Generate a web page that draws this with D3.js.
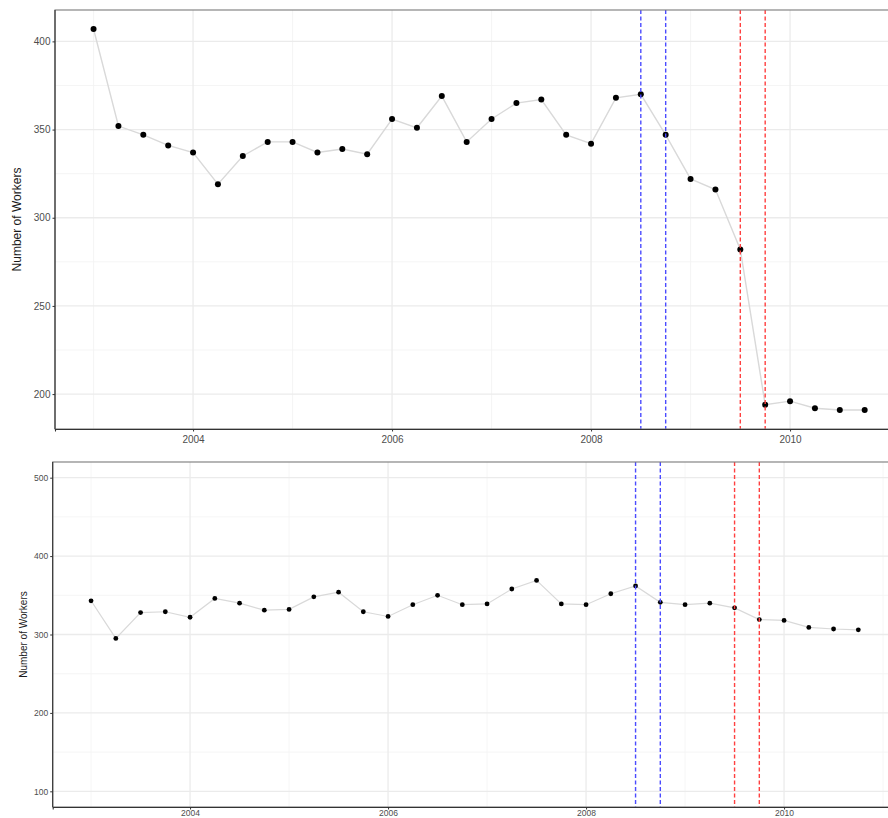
<!DOCTYPE html>
<html><head><meta charset="utf-8">
<script src="https://cdn.jsdelivr.net/npm/d3@7"></script>
<style>body{margin:0;background:#fff}svg{display:block}text{font-family:"Liberation Sans",Arial,sans-serif}</style>
</head><body><svg id="c" width="888" height="818"></svg>
<script>
const quarters = [2003,2003.25,2003.5,2003.75,2004,2004.25,2004.5,2004.75,2005,2005.25,2005.5,2005.75,2006,2006.25,2006.5,2006.75,2007,2007.25,2007.5,2007.75,2008,2008.25,2008.5,2008.75,2009,2009.25,2009.5,2009.75,2010,2010.25,2010.5,2010.75];
const workersTop = [407,352,347,341,337,319,335,343,343,337,339,336,356,351,369,343,356,365,367,347,342,368,370,347,322,316,282,194,196,192,191,191];
const workersBottom = [343,295,328,329,322,346,340,331,332,348,354,329,323,338,350,338,339,358,369,339,338,352,362,341,338,340,334,319,318,309,307,306];
const blueLines = [2008.5, 2008.75];
const redLines = [2009.5, 2009.75];
const xTicks = [2004, 2006, 2008, 2010];
const xMinor = [2003, 2005, 2007, 2009, 2011];
const yTicksTop = [200, 250, 300, 350, 400];
const yMinorTop = [225, 275, 325, 375];
const yTicksBottom = [100, 200, 300, 400, 500];
const yMinorBottom = [150, 250, 350, 450];
const yTitle = "Number of Workers";

const svg = d3.select("#c");

function panel(cfg){
  const g = svg.append("g");
  const x = d3.scaleLinear().domain([2002.6125, 2011.1375]).range([cfg.left, cfg.left + (2011.1375-2002.6125)*cfg.pxYear]);
  const y = d3.scaleLinear().domain(cfg.ydom).range([cfg.bottom, cfg.top]);
  const clipId = "clip" + cfg.id;
  svg.append("clipPath").attr("id", clipId).append("rect")
    .attr("x", cfg.left).attr("y", cfg.top).attr("width", 888 - cfg.left).attr("height", cfg.bottom - cfg.top);
  const pg = g.append("g").attr("clip-path", `url(#${clipId})`);
  pg.selectAll(".ymin").data(cfg.yMinor).join("line")
    .attr("x1", cfg.left).attr("x2", 900).attr("y1", d=>y(d)).attr("y2", d=>y(d))
    .attr("stroke", "#f3f3f3").attr("stroke-width", 0.8);
  pg.selectAll(".xmin").data(xMinor).join("line")
    .attr("y1", cfg.top).attr("y2", cfg.bottom).attr("x1", d=>x(d)).attr("x2", d=>x(d))
    .attr("stroke", "#f3f3f3").attr("stroke-width", 0.8);
  pg.selectAll(".ymaj").data(cfg.yTicks).join("line")
    .attr("x1", cfg.left).attr("x2", 900).attr("y1", d=>y(d)).attr("y2", d=>y(d))
    .attr("stroke", "#ebebeb").attr("stroke-width", 1.3);
  pg.selectAll(".xmaj").data(xTicks).join("line")
    .attr("y1", cfg.top).attr("y2", cfg.bottom).attr("x1", d=>x(d)).attr("x2", d=>x(d))
    .attr("stroke", "#ebebeb").attr("stroke-width", 1.3);
  pg.append("path").datum(quarters.map((q,i)=>[q, cfg.values[i]]))
    .attr("fill","none").attr("stroke","#d9d9d9").attr("stroke-width", cfg.lw)
    .attr("d", d3.line().x(d=>x(d[0])).y(d=>y(d[1])));
  pg.selectAll(".pt").data(quarters).join("circle")
    .attr("cx", d=>x(d)).attr("cy", (d,i)=>y(cfg.values[i])).attr("r", cfg.r).attr("fill","#000");
  pg.selectAll(".vb").data(blueLines).join("line")
    .attr("x1", d=>x(d)).attr("x2", d=>x(d)).attr("y1", cfg.top).attr("y2", cfg.bottom)
    .attr("stroke", "#4b4bff").attr("stroke-width", 1.4).attr("stroke-dasharray", "4,2.5");
  pg.selectAll(".vr").data(redLines).join("line")
    .attr("x1", d=>x(d)).attr("x2", d=>x(d)).attr("y1", cfg.top).attr("y2", cfg.bottom)
    .attr("stroke", "#ff4040").attr("stroke-width", 1.4).attr("stroke-dasharray", "4,2.5");
  g.append("rect").attr("x", cfg.left).attr("y", cfg.top).attr("width", 900 - cfg.left).attr("height", cfg.bottom - cfg.top)
    .attr("fill","none").attr("stroke","#7a7a7a").attr("stroke-width", 1.1);
  const ya = d3.axisLeft(y).tickValues(cfg.yTicks).tickSize(2.5).tickPadding(2);
  const yg = g.append("g").attr("transform", `translate(${cfg.left},0)`).call(ya);
  const xa = d3.axisBottom(x).tickValues(xTicks).tickFormat(d3.format("d")).tickSize(2.5).tickPadding(cfg.xPad);
  const xg = g.append("g").attr("transform", `translate(0,${cfg.bottom})`).call(xa);
  [yg, xg].forEach(a=>{
    a.select(".domain").attr("stroke","#333").attr("stroke-width", 1.1);
    a.selectAll(".tick line").attr("stroke","#333");
    a.selectAll(".tick text").attr("fill","#4d4d4d").attr("font-size", cfg.tickFs).attr("font-family","Liberation Sans, Arial, sans-serif");
  });
  yg.select(".domain").attr("d", `M0,${cfg.top}V${cfg.bottom}`);
  g.append("text").attr("transform", `translate(${cfg.titleX},${(cfg.top+cfg.bottom)/2}) rotate(-90)`)
    .attr("text-anchor","middle").attr("font-size", cfg.titleFs).attr("fill","#1a1a1a").text(yTitle);
}

panel({id:"t", left:55, top:10, bottom:429, pxYear:99.5, ydom:[180.2, 417.8], yTicks:yTicksTop, yMinor:yMinorTop,
  values:workersTop, r:3, lw:1.4, tickFs:"10px", titleFs:"12px", titleX:21, xPad:4});
panel({id:"b", left:52.7, top:462, bottom:807, pxYear:99, ydom:[80, 520], yTicks:yTicksBottom, yMinor:yMinorBottom,
  values:workersBottom, r:2.4, lw:1.2, tickFs:"8.5px", titleFs:"10px", titleX:27, xPad:0.5});
</script></body></html>
